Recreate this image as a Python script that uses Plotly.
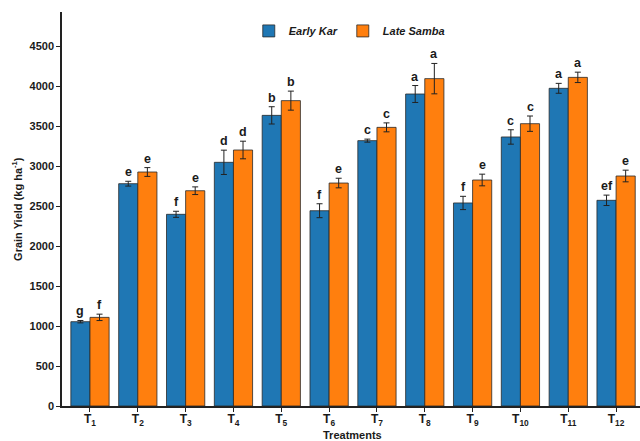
import plotly.graph_objects as go

treatments = ["T<sub>1</sub>", "T<sub>2</sub>", "T<sub>3</sub>", "T<sub>4</sub>", "T<sub>5</sub>", "T<sub>6</sub>",
              "T<sub>7</sub>", "T<sub>8</sub>", "T<sub>9</sub>", "T<sub>10</sub>", "T<sub>11</sub>", "T<sub>12</sub>"]
early_kar = [1054, 2779, 2396, 3046, 3633, 2441, 3317, 3900, 2538, 3363, 3971, 2571]
early_kar_err = [15, 30, 38, 152, 108, 87, 19, 106, 83, 90, 62, 65]
late_samba = [1108, 2925, 2691, 3200, 3817, 2787, 3483, 4092, 2825, 3529, 4108, 2875]
late_samba_err = [40, 55, 48, 110, 119, 60, 56, 190, 73, 96, 65, 73]
early_letters = ["g", "e", "f", "d", "b", "f", "c", "a", "f", "c", "a", "ef"]
late_letters = ["f", "e", "e", "d", "b", "e", "c", "a", "e", "c", "a", "e"]

FONT = "Liberation Sans, Arial, sans-serif"
BLUE = "#1f77b4"
ORANGE = "#ff7f0e"

fig = go.Figure()
fig.add_trace(go.Bar(
    name="Early Kar", x=treatments, y=early_kar,
    marker=dict(color=BLUE, line=dict(color="#2a2a2a", width=0.8)),
    error_y=dict(type="data", array=early_kar_err, color="#222222", thickness=1, width=3),
))
fig.add_trace(go.Bar(
    name="Late Samba", x=treatments, y=late_samba,
    marker=dict(color=ORANGE, line=dict(color="#2a2a2a", width=0.8)),
    error_y=dict(type="data", array=late_samba_err, color="#222222", thickness=1, width=3),
))

annotations = []
for i in range(len(treatments)):
    annotations.append(dict(x=i - 0.2, y=early_kar[i] + early_kar_err[i], xref="x", yref="y",
                            text=f"<b>{early_letters[i]}</b>", showarrow=False,
                            yanchor="bottom", yshift=0,
                            font=dict(family=FONT, size=12.5, color="#1a1a1a")))
    annotations.append(dict(x=i + 0.2, y=late_samba[i] + late_samba_err[i], xref="x", yref="y",
                            text=f"<b>{late_letters[i]}</b>", showarrow=False,
                            yanchor="bottom", yshift=0,
                            font=dict(family=FONT, size=12.5, color="#1a1a1a")))

annotations.append(dict(x=0.503, y=-0.074, xref="paper", yref="paper", text="<b>Treatments</b>",
                        showarrow=False, xanchor="center", yanchor="middle",
                        font=dict(family=FONT, size=11, color="#1a1a1a")))
annotations.append(dict(x=-0.078, y=0.5, xref="paper", yref="paper",
                        text="<b>Grain Yield (kg ha<sup>-1</sup>)</b>", textangle=-90,
                        showarrow=False, xanchor="center", yanchor="middle",
                        font=dict(family=FONT, size=11, color="#1a1a1a")))

fig.update_layout(
    width=640, height=441,
    margin=dict(l=62, r=0, t=12, b=35, autoexpand=False),
    paper_bgcolor="white", plot_bgcolor="white",
    barmode="group", bargap=0.2, bargroupgap=0,
    font=dict(family=FONT, size=11, color="#1a1a1a"),
    showlegend=True,
    legend=dict(orientation="h", x=0.497, xanchor="center", y=0.952, yanchor="middle",
                font=dict(family=FONT, size=11, style="italic", weight="bold", color="#1a1a1a"),
                itemwidth=30, bgcolor="rgba(0,0,0,0)"),
    annotations=annotations,
    xaxis=dict(range=[-0.585, 11.5], showline=True, linecolor="#222222", linewidth=1.5,
               ticks="outside", ticklen=4, tickcolor="#222222", tickwidth=1,
               ticklabelstandoff=-3,
               tickfont=dict(family=FONT, size=12, weight="bold", color="#1a1a1a"),
               showgrid=False, zeroline=False, automargin=False),
    yaxis=dict(range=[0, 4925], tickvals=[0, 500, 1000, 1500, 2000, 2500, 3000, 3500, 4000, 4500],
               showline=True, linecolor="#222222", linewidth=1.5,
               ticks="outside", ticklen=4, tickcolor="#222222", tickwidth=1,
               tickfont=dict(family=FONT, size=11, weight="bold", color="#1a1a1a"),
               showgrid=False, zeroline=False, automargin=False),
)

fig.write_html("out.html", config={"displayModeBar": False},
               post_script="document.body.style.margin='0';document.body.style.overflow='hidden';")
